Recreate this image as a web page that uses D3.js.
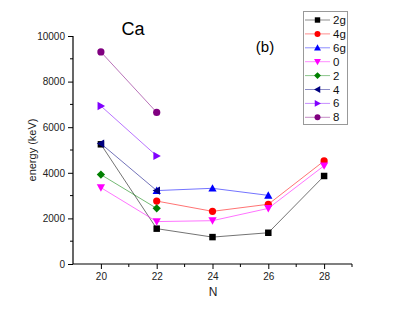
<!DOCTYPE html>
<html>
<head>
<meta charset="utf-8">
<script src="https://cdn.jsdelivr.net/npm/d3@7"></script>
<style>
  body { margin: 0; background: #fff; }
  svg { font-family: "Liberation Sans", Arial, sans-serif; }
</style>
</head>
<body>
<svg id="chart" width="409" height="316"></svg>
<script>
// data
const N = [20, 22, 24, 26, 28];
const seriesNames = ["2g", "4g", "6g", "0", "2", "4", "6", "8"];
const colors = ["#000000", "#ff0000", "#0000ff", "#ff00ff", "#008000", "#000080", "#8000ff", "#800080"];
const symbols = ["square", "circle", "triUp", "triDown", "diamond", "triLeft", "triRight", "circle"];
// values per series, aligned with N (null = no point)
const e2g = [5250, 1550, 1180, 1370, 3860];
const e4g = [null, 2760, 2310, 2620, 4520];
const e6g = [null, 3220, 3320, 3010, null];
const e0 = [3350, 1860, 1900, 2440, 4310];
const e2 = [3920, 2440, null, null, null];
const e4 = [5280, 3220, null, null, null];
const e6 = [6930, 4740, null, null, null];
const e8 = [9300, 6650, null, null, null];
const allValues = [e2g, e4g, e6g, e0, e2, e4, e6, e8];
const yTicks = [0, 2000, 4000, 6000, 8000, 10000];
const xTicks = [20, 22, 24, 26, 28];

const svg = d3.select("#chart");

const x = d3.scaleLinear().domain([19, 29]).range([73, 352]);
const y = d3.scaleLinear().domain([0, 10000]).range([264, 36]);

// axes
const xAxis = d3.axisBottom(x).tickValues(xTicks).tickSize(5).tickPadding(4).tickFormat(d3.format("d"));
const yAxis = d3.axisLeft(y).tickValues(yTicks).tickSize(5).tickPadding(3).tickFormat(d3.format("d"));

const gx = svg.append("g").attr("transform", "translate(0,264)").call(xAxis);
const gy = svg.append("g").attr("transform", "translate(73,0)").call(yAxis);

// minor ticks
gx.selectAll(".minor").data([21, 23, 25, 27, 29]).enter().append("line")
  .attr("x1", d => x(d)).attr("x2", d => x(d)).attr("y1", 0).attr("y2", 3)
  .attr("stroke", "#000");
gy.selectAll(".minor").data([1000, 3000, 5000, 7000, 9000]).enter().append("line")
  .attr("y1", d => y(d)).attr("y2", d => y(d)).attr("x1", 0).attr("x2", -3)
  .attr("stroke", "#000");

[gx, gy].forEach(g => {
  g.select(".domain").attr("stroke", "#000").attr("stroke-width", 1.2);
  g.selectAll("text").attr("font-size", 10).attr("fill", "#222")
    .attr("font-family", "Liberation Sans, Arial, sans-serif");
});
gx.select(".domain").attr("d", `M${x(19)},0H${x(29)}`);
gy.select(".domain").attr("d", `M0,${y(0)}V${y(10000)}`);

// axis titles
svg.append("text").attr("x", 213).attr("y", 296).attr("text-anchor", "middle")
  .attr("font-size", 12).attr("fill", "#222").text("N");
svg.append("text").attr("transform", "translate(36,150) rotate(-90)")
  .attr("text-anchor", "middle").attr("font-size", 11).attr("fill", "#222").text("energy (keV)");

// annotations
svg.append("text").attr("x", 133).attr("y", 35).attr("text-anchor", "middle")
  .attr("font-size", 18).attr("fill", "#000").text("Ca");
svg.append("text").attr("x", 265).attr("y", 52).attr("text-anchor", "middle")
  .attr("font-size", 15).attr("fill", "#000").text("(b)");

function marker(g, kind, cx, cy, color, s) {
  s = s || 3.6;
  let el;
  if (kind === "circle") {
    el = g.append("circle").attr("cx", cx).attr("cy", cy).attr("r", s);
  } else if (kind === "square") {
    el = g.append("rect").attr("x", cx - s * 0.9).attr("y", cy - s * 0.9)
      .attr("width", s * 1.8).attr("height", s * 1.8);
  } else {
    let pts;
    const a = s * 1.15;
    if (kind === "triUp") pts = [[0, -a], [a, a * 0.8], [-a, a * 0.8]];
    if (kind === "triDown") pts = [[0, a], [a, -a * 0.8], [-a, -a * 0.8]];
    if (kind === "triLeft") pts = [[-a, 0], [a * 0.8, -a], [a * 0.8, a]];
    if (kind === "triRight") pts = [[a, 0], [-a * 0.8, -a], [-a * 0.8, a]];
    if (kind === "diamond") pts = [[0, -a], [a, 0], [0, a], [-a, 0]];
    el = g.append("polygon").attr("points", pts.map(p => [cx + p[0], cy + p[1]].join(",")).join(" "));
  }
  el.attr("fill", color);
}

// series
const line = d3.line().defined(d => d.v != null).x(d => x(d.n)).y(d => y(d.v));
seriesNames.forEach((name, i) => {
  const pts = N.map((n, j) => ({ n: n, v: allValues[i][j] }));
  const g = svg.append("g");
  g.append("path").datum(pts).attr("d", line).attr("fill", "none")
    .attr("stroke", colors[i]).attr("stroke-opacity", 0.55).attr("stroke-width", 1);
  pts.filter(d => d.v != null).forEach(d => marker(g, symbols[i], x(d.n), y(d.v), colors[i]));
});

// legend
const leg = svg.append("g");
leg.append("rect").attr("x", 303.5).attr("y", 11.5).attr("width", 44).attr("height", 113)
  .attr("fill", "#fff").attr("stroke", "#999");
seriesNames.forEach((name, i) => {
  const ly = 20 + i * 13.9;
  leg.append("line").attr("x1", 305).attr("x2", 330).attr("y1", ly).attr("y2", ly)
    .attr("stroke", colors[i]).attr("stroke-opacity", 0.45);
  marker(leg, symbols[i], 317.5, ly, colors[i], 3);
  leg.append("text").attr("x", 333).attr("y", ly + 4).attr("font-size", 11.5)
    .attr("fill", "#111").text(name);
});
</script>
</body>
</html>
